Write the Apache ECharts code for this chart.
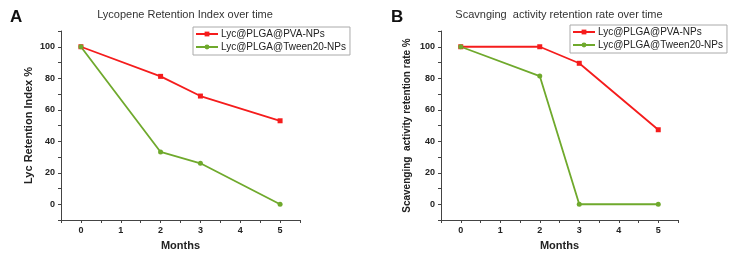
<!DOCTYPE html>
<html><head><meta charset="utf-8">
<script src="https://cdn.jsdelivr.net/npm/echarts@6/dist/echarts.min.js"></script>
<style>html,body{margin:0;padding:0;background:#fff}#c{width:732px;height:257px}</style>
</head><body><div id="c"></div>
<script>
var months = [0, 2, 3, 5];
var seriesNames = ['Lyc@PLGA@PVA-NPs', 'Lyc@PLGA@Tween20-NPs'];
var aPVA = [100, 81.2, 68.7, 53.0];
var aTween = [100, 33.2, 26.0, 0];
var bPVA = [100, 100, 89.5, 47.3];
var bTween = [100, 81.4, 0, 0];
var titleA = 'Lycopene Retention Index over time';
var titleB = 'Scavnging  activity retention rate over time';
var yNameA = 'Lyc Retention Index %';
var yNameB = 'Scavenging  activity retention rate %';
var xName = 'Months';

var RED = '#f51c1c', GREEN = '#6fa92c';
var FONT = 'Liberation Sans, Arial, sans-serif';
function pairs(v){ return months.map(function(m,i){ return [m, v[i]]; }); }

function xAxis(gi){
  return {
    type:'value', gridIndex:gi, min:-0.5, max:5.5, interval:0.5,
    name:xName, nameLocation:'middle', nameGap:20,
    nameTextStyle:{fontFamily:FONT, fontWeight:'bold', fontSize:11, color:'#222'},
    axisLine:{onZero:false, lineStyle:{color:'#444', width:1}},
    axisTick:{inside:false, length:3, lineStyle:{color:'#444'}},
    axisLabel:{fontFamily:FONT, fontWeight:'bold', fontSize:9, color:'#222', margin:6,
      formatter:function(v){ return (Math.abs(v - Math.round(v))<1e-6) ? String(Math.round(v)) : ''; }},
    splitLine:{show:false}
  };
}
function yAxis(gi, nm, gap, fs){
  return {
    type:'value', gridIndex:gi, min:-10, max:110, interval:10,
    name:nm, nameLocation:'middle', nameGap:gap, nameRotate:90,
    nameTextStyle:{fontFamily:FONT, fontWeight:'bold', fontSize:fs, color:'#222'},
    axisLine:{show:true, onZero:false, lineStyle:{color:'#444', width:1}},
    axisTick:{show:true, length:3, lineStyle:{color:'#444'}},
    axisLabel:{fontFamily:FONT, fontWeight:'bold', fontSize:9, color:'#222', margin:6,
      formatter:function(v){ return (v>=0 && v%20===0) ? String(v) : ''; }},
    splitLine:{show:false}
  };
}
function ser(name, data, xi, color, sym){
  return {type:'line', name:name, xAxisIndex:xi, yAxisIndex:xi, data:pairs(data),
    symbol:sym, symbolSize:5, color:color,
    lineStyle:{color:color, width:1.8}, itemStyle:{color:color}, emphasis:{disabled:true}, animation:false};
}
function legend(left, top){
  return {orient:'vertical', left:left, top:top, padding:[2,4,3,2], itemGap:3,
    itemWidth:22, itemHeight:6, borderColor:'#aaa', borderWidth:1, borderRadius:0,
    selectedMode:false, data:seriesNames,
    textStyle:{fontFamily:FONT, fontSize:10, color:'#222', padding:[0,0,0,-2]}};
}

var chart = echarts.init(document.getElementById('c'), null, {renderer:'canvas'});
chart.setOption({
  backgroundColor:'#fff',
  animation:false,
  title:[
    {text:'A', left:5, top:4, textStyle:{fontFamily:FONT, fontWeight:'bold', fontSize:17, color:'#111'}},
    {text:'B', left:386, top:4, textStyle:{fontFamily:FONT, fontWeight:'bold', fontSize:17, color:'#111'}},
    {text:titleA, left:180, textAlign:'center', top:4, textStyle:{fontFamily:FONT, fontWeight:'normal', fontSize:11, color:'#333'}},
    {text:titleB, left:554, textAlign:'center', top:4, textStyle:{fontFamily:FONT, fontWeight:'normal', fontSize:11, color:'#333'}}
  ],
  legend:[legend(193, 27), legend(570, 25)],
  grid:[
    {left:61, top:31, width:239, height:189, containLabel:false},
    {left:441, top:31, width:237, height:189, containLabel:false}
  ],
  xAxis:[xAxis(0), xAxis(1)],
  yAxis:[yAxis(0, yNameA, 27, 11), yAxis(1, yNameB, 29, 10)],
  series:[
    ser(seriesNames[0], aPVA, 0, RED, 'rect'),
    ser(seriesNames[1], aTween, 0, GREEN, 'circle'),
    ser(seriesNames[0], bPVA, 1, RED, 'rect'),
    ser(seriesNames[1], bTween, 1, GREEN, 'circle')
  ]
});
</script></body></html>
